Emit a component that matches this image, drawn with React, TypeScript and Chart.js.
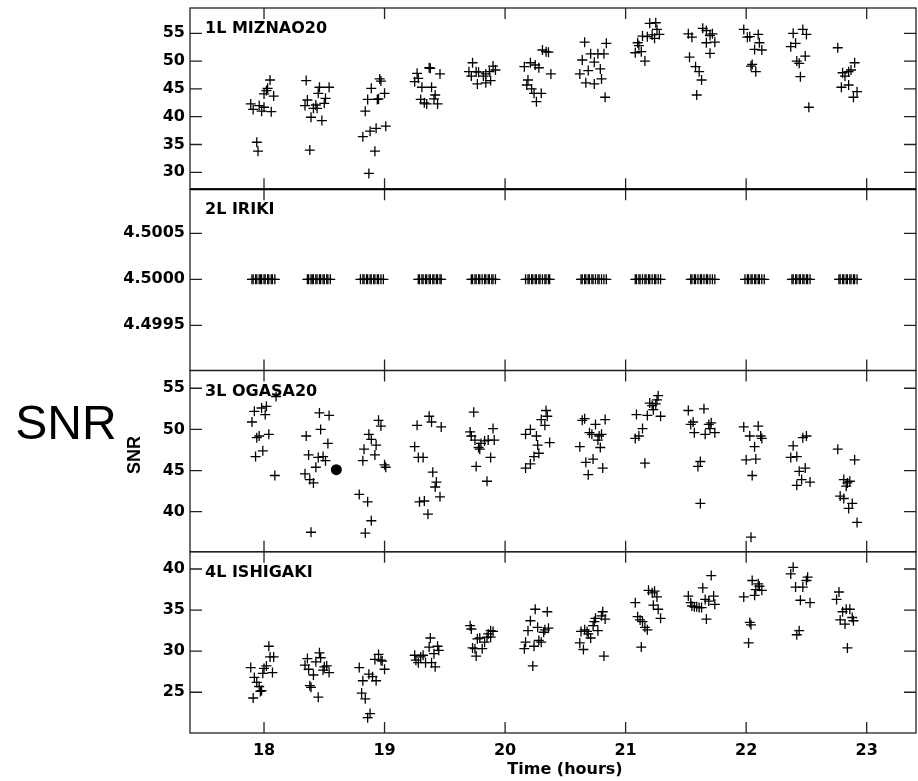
import React, { useEffect, useRef } from "react";
import { Chart, registerables } from "chart.js";

Chart.register(...registerables);

// ---------- axis settings ----------
const X_MIN = 17.386;
const X_MAX = 23.409;
const xTicks = [18, 19, 20, 21, 22, 23];

const mizTicks = [30, 35, 40, 45, 50, 55];
const iriTicks = [4.4995, 4.5, 4.5005];
const ogaTicks = [40, 45, 50, 55];
const ishTicks = [25, 30, 35, 40];

const panelLabels = ["1L MIZNAO20", "2L IRIKI", "3L OGASA20", "4L ISHIGAKI"];

// ---------- data: 1L MIZNAO20 ----------
const mizTimes = [
  17.89, 17.91, 17.96, 17.98, 18.0, 17.94, 17.95, 18.0, 18.02, 18.03, 18.05, 18.08, 18.06,
  18.35, 18.36, 18.34, 18.38, 18.39, 18.41, 18.43, 18.44, 18.45, 18.46, 18.48, 18.5, 18.51, 18.54,
  18.82, 18.84, 18.86, 18.87, 18.88, 18.89, 18.92, 18.94, 18.93, 18.96, 18.97, 19.0, 19.01, 18.95,
  19.25, 19.27, 19.28, 19.3, 19.31, 19.33, 19.35, 19.37, 19.38, 19.39, 19.41, 19.42, 19.44, 19.46,
  19.7, 19.73, 19.72, 19.76, 19.78, 19.77, 19.82, 19.84, 19.84, 19.88, 19.9, 19.92, 19.87,
  20.16, 20.21, 20.25, 20.28, 20.19, 20.18, 20.22, 20.24, 20.3, 20.26, 20.31, 20.34, 20.36, 20.38,
  20.66, 20.84, 20.64, 20.71, 20.77, 20.82, 20.74, 20.69, 20.79, 20.62, 20.67, 20.74, 20.8, 20.83,
  21.08, 21.1, 21.13, 21.16, 21.14, 21.18, 21.2, 21.24, 21.22, 21.25, 21.26, 21.28, 21.11,
  21.52, 21.55, 21.53, 21.58, 21.61, 21.63, 21.59, 21.64, 21.67, 21.7, 21.72, 21.67, 21.74, 21.7,
  21.98, 22.01, 22.03, 22.1, 22.11, 22.07, 22.13, 22.04, 22.05, 22.08,
  22.39, 22.47, 22.5, 22.37, 22.41, 22.42, 22.44, 22.49, 22.45, 22.52,
  22.76, 22.8, 22.82, 22.85, 22.87, 22.9, 22.79, 22.85, 22.92, 22.89,
];
const mizSnr = [
  42.3, 41.3, 42.0, 41.0, 41.7, 35.4, 33.8, 44.1, 44.7, 45.1, 46.6, 43.7, 40.9,
  46.5, 43.0, 42.0, 34.0, 39.9, 41.5, 42.1, 41.5, 44.2, 45.3, 39.3, 42.4, 43.3, 45.3,
  36.4, 41.0, 43.1, 29.8, 37.4, 45.1, 33.8, 43.1, 37.9, 46.8, 46.4, 44.2, 38.3, 43.2,
  46.3, 47.8, 46.9, 43.1, 45.3, 42.5, 42.3, 48.8, 48.7, 45.3, 43.2, 43.9, 42.3, 47.7,
  48.1, 49.7, 47.3, 48.1, 48.0, 45.9, 47.3, 47.7, 46.1, 46.5, 49.1, 48.4, 48.1,
  49.0, 49.7, 49.3, 48.8, 46.6, 45.7, 45.0, 44.2, 44.2, 42.7, 52.0, 51.7, 51.6, 47.7,
  53.4, 53.2, 50.2, 51.3, 51.3, 51.3, 49.8, 48.3, 48.6, 47.7, 46.1, 45.9, 46.8, 43.5,
  51.5, 53.3, 51.7, 50.0, 54.5, 54.4, 56.8, 54.1, 54.7, 56.9, 55.7, 54.8, 52.8,
  54.9, 54.3, 50.7, 49.0, 48.1, 46.6, 43.9, 55.9, 55.5, 54.6, 54.9, 53.3, 53.4, 51.4,
  55.7, 54.3, 54.4, 54.8, 53.3, 52.1, 52.0, 49.1, 49.4, 48.1,
  55.0, 55.7, 54.8, 52.6, 53.2, 50.0, 49.6, 50.9, 47.2, 41.7,
  52.4, 47.9, 47.3, 48.1, 48.4, 49.7, 45.3, 45.7, 44.5, 43.5,
];

// ---------- data: 2L IRIKI (constant level) ----------
const IRIKI_LEVEL = 4.5;
const iriTimes = [
  17.9, 17.91, 17.93, 17.94, 17.96, 17.97, 17.98, 18.0, 18.01, 18.03, 18.04, 18.06, 18.07, 18.09,
  18.36, 18.37, 18.39, 18.4, 18.41, 18.43, 18.44, 18.46, 18.47, 18.49, 18.5, 18.52, 18.53, 18.55,
  18.8, 18.82, 18.83, 18.85, 18.86, 18.88, 18.89, 18.91, 18.92, 18.94, 18.95, 18.97, 18.99,
  19.28, 19.29, 19.31, 19.32, 19.34, 19.35, 19.37, 19.38, 19.4, 19.41, 19.43, 19.44, 19.46, 19.47,
  19.72, 19.73, 19.75, 19.76, 19.78, 19.79, 19.81, 19.83, 19.84, 19.86, 19.87, 19.89, 19.9, 19.92,
  20.17, 20.19, 20.2, 20.22, 20.23, 20.25, 20.26, 20.28, 20.29, 20.31, 20.33, 20.34, 20.36, 20.37,
  20.63, 20.64, 20.66, 20.67, 20.69, 20.7, 20.72, 20.73, 20.75, 20.77, 20.78, 20.8, 20.82, 20.84,
  21.08, 21.09, 21.11, 21.12, 21.14, 21.16, 21.17, 21.19, 21.2, 21.22, 21.24, 21.25, 21.27, 21.29,
  21.54, 21.55, 21.57, 21.58, 21.6, 21.62, 21.63, 21.65, 21.67, 21.68, 21.7, 21.72, 21.74,
  21.99, 22.01, 22.02, 22.04, 22.05, 22.07, 22.08, 22.1, 22.11, 22.13, 22.15,
  22.38, 22.39, 22.41, 22.42, 22.44, 22.45, 22.47, 22.48, 22.5, 22.51, 22.53,
  22.77, 22.78, 22.8, 22.81, 22.83, 22.84, 22.86, 22.87, 22.89, 22.9, 22.92,
];

// ---------- data: 3L OGASA20 ----------
const ogaTimes = [
  17.9, 17.92, 17.98, 18.02, 18.01, 17.94, 17.96, 18.04, 17.93, 17.99, 18.09, 18.1,
  18.35, 18.37, 18.34, 18.38, 18.41, 18.39, 18.43, 18.45, 18.49, 18.51, 18.46, 18.47, 18.54, 18.53,
  18.79, 18.86, 18.84, 18.89, 18.82, 18.83, 18.87, 18.89, 18.93, 18.92, 18.95, 18.97, 19.0, 19.01,
  19.25, 19.27, 19.28, 19.32, 19.29, 19.33, 19.36, 19.37, 19.39, 19.4, 19.43, 19.42, 19.46, 19.47,
  19.74, 19.71, 19.72, 19.75, 19.78, 19.8, 19.83, 19.86, 19.9, 19.91, 19.88, 19.76, 19.85, 19.79,
  20.17, 20.21, 20.24, 20.28, 20.27, 20.37, 20.17, 20.21, 20.26, 20.3, 20.33, 20.34, 20.35,
  20.62, 20.64, 20.66, 20.67, 20.69, 20.73, 20.7, 20.72, 20.75, 20.77, 20.78, 20.8, 20.79, 20.83, 20.81,
  21.08, 21.11, 21.14, 21.09, 21.16, 21.18, 21.2, 21.22, 21.23, 21.25, 21.26, 21.27, 21.29,
  21.52, 21.65, 21.56, 21.54, 21.57, 21.66, 21.69, 21.71, 21.7, 21.74, 21.62, 21.6, 21.62,
  21.98, 22.1, 22.03, 22.12, 22.13, 22.07, 22.0, 22.08, 22.05, 22.04,
  22.39, 22.37, 22.42, 22.47, 22.5, 22.44, 22.49, 22.46, 22.42, 22.53,
  22.76, 22.9, 22.81, 22.84, 22.86, 22.83, 22.78, 22.81, 22.88, 22.85, 22.92,
];
const ogaSnr = [
  50.9, 52.2, 52.6, 52.8, 51.8, 49.0, 49.2, 49.4, 46.7, 47.4, 44.4, 54.0,
  49.2, 46.9, 44.6, 43.9, 43.5, 37.5, 45.4, 46.6, 46.7, 46.2, 52.0, 50.0, 51.7, 48.3,
  42.1, 41.2, 37.4, 38.9, 46.2, 47.6, 49.4, 48.8, 48.1, 46.9, 51.1, 50.4, 45.7, 45.4,
  47.9, 50.5, 46.6, 46.6, 41.2, 41.3, 39.7, 51.6, 50.9, 44.8, 43.6, 43.0, 41.8, 50.3,
  52.1, 49.7, 49.2, 48.7, 47.8, 48.3, 48.6, 48.7, 50.1, 48.7, 46.6, 45.5, 43.7, 47.6,
  45.3, 45.8, 46.7, 47.1, 48.1, 48.4, 49.4, 50.0, 49.2, 51.2, 50.5, 52.3, 51.6,
  47.9, 51.1, 51.3, 46.0, 44.5, 46.4, 49.6, 49.4, 50.6, 48.7, 49.2, 49.4, 47.8, 51.2, 45.3,
  48.9, 49.2, 50.1, 51.8, 45.9, 51.7, 53.2, 52.9, 52.4, 53.1, 53.6, 54.1, 51.6,
  52.3, 52.5, 50.9, 50.6, 49.6, 49.4, 50.6, 50.8, 50.1, 49.6, 46.1, 45.5, 41.0,
  50.3, 50.4, 49.2, 49.2, 48.9, 47.9, 46.3, 46.4, 44.4, 36.9,
  48.0, 46.6, 46.7, 49.0, 49.2, 44.9, 45.3, 43.9, 43.2, 43.6,
  47.6, 46.3, 43.9, 43.5, 43.7, 43.1, 41.9, 41.6, 41.0, 40.4, 38.7,
];
const markerTime = [18.6];
const markerSnr = [45.1];

// ---------- data: 4L ISHIGAKI ----------
const ishTimes = [
  17.89, 17.91, 17.92, 17.94, 17.96, 17.97, 17.98, 17.99, 18.0, 18.02, 18.04, 18.05, 18.08, 18.07,
  18.36, 18.34, 18.37, 18.38, 18.39, 18.41, 18.43, 18.45, 18.46, 18.47, 18.49, 18.5, 18.52, 18.54,
  18.79, 18.82, 18.81, 18.84, 18.86, 18.88, 18.87, 18.9, 18.93, 18.92, 18.95, 18.97, 18.98, 19.0,
  19.25, 19.26, 19.28, 19.3, 19.32, 19.34, 19.37, 19.38, 19.39, 19.41, 19.42, 19.44, 19.45,
  19.71, 19.72, 19.73, 19.75, 19.76, 19.77, 19.79, 19.81, 19.83, 19.85, 19.86, 19.88, 19.9, 19.88,
  20.16, 20.17, 20.19, 20.21, 20.23, 20.24, 20.25, 20.27, 20.28, 20.3, 20.32, 20.33, 20.35, 20.36,
  20.62, 20.65, 20.63, 20.66, 20.68, 20.69, 20.71, 20.73, 20.74, 20.75, 20.77, 20.8, 20.82, 20.83, 20.81,
  21.08, 21.1, 21.12, 21.14, 21.13, 21.16, 21.18, 21.19, 21.22, 21.24, 21.26, 21.23, 21.27, 21.29,
  21.52, 21.54, 21.55, 21.57, 21.59, 21.61, 21.63, 21.64, 21.67, 21.66, 21.69, 21.71, 21.73, 21.74,
  21.98, 22.02, 22.03, 22.04, 22.05, 22.07, 22.08, 22.1, 22.11, 22.13,
  22.39, 22.37, 22.41, 22.47, 22.5, 22.51, 22.45, 22.53, 22.44, 22.42,
  22.77, 22.75, 22.8, 22.83, 22.86, 22.78, 22.82, 22.88, 22.89, 22.84,
];
const ishSnr = [
  28.0, 24.3, 26.8, 26.2, 25.7, 25.1, 25.2, 27.3, 27.9, 28.2, 30.6, 29.3, 29.3, 27.4,
  29.1, 28.3, 27.8, 25.8, 25.6, 27.1, 28.7, 24.4, 29.8, 29.2, 27.7, 28.1, 28.2, 27.4,
  28.0, 26.4, 24.9, 24.2, 21.9, 22.4, 27.2, 26.9, 26.4, 29.0, 29.6, 28.9, 28.8, 27.8,
  29.5, 28.9, 28.6, 29.3, 29.5, 28.6, 30.5, 31.6, 28.6, 29.7, 28.1, 30.6, 30.1,
  33.1, 32.7, 30.4, 30.3, 29.4, 31.5, 31.6, 30.3, 31.1, 31.7, 32.1, 32.5, 32.4, 31.7,
  30.3, 31.1, 32.5, 33.7, 28.2, 30.6, 35.1, 32.9, 31.3, 31.1, 32.3, 32.6, 34.8, 32.8,
  31.0, 30.2, 32.4, 32.6, 32.4, 32.1, 31.6, 33.1, 33.6, 34.0, 32.5, 34.3, 29.4, 33.9, 34.8,
  35.9, 34.2, 33.8, 33.6, 30.5, 32.9, 32.6, 37.4, 37.1, 37.3, 36.6, 35.6, 35.1, 34.0,
  36.7, 35.9, 35.5, 35.4, 35.4, 35.3, 35.3, 37.7, 33.9, 36.3, 36.1, 39.2, 36.7, 35.7,
  36.6, 31.0, 33.5, 33.2, 38.6, 36.8, 37.5, 38.2, 37.9, 37.4,
  40.2, 39.4, 37.8, 37.8, 38.6, 39.0, 36.2, 35.9, 32.5, 32.0,
  37.2, 36.3, 34.8, 35.1, 35.1, 33.8, 33.3, 34.1, 33.7, 30.4,
];

// ---------- helpers ----------
const FONT_BOLD = "'DejaVu Sans', sans-serif";
const TICK_FONT = { family: FONT_BOLD, size: 16, weight: "bold" as const };
const panelIds = ["yMiz", "yIri", "yOga", "yIsh"];

const toPts = (xs: number[], ys: number[]) => xs.map((x, i) => ({ x, y: ys[i] }));

function yAxis(min: number, max: number, ticks: number[], fmt: (v: number) => string) {
  return {
    type: "linear" as const,
    position: "left" as const,
    stack: "panels",
    stackWeight: 1,
    min,
    max,
    grid: { display: false, drawTicks: false },
    border: { display: false },
    afterBuildTicks: (s: any) => {
      s.ticks = ticks.map((v) => ({ value: v }));
    },
    afterFit: (s: any) => {
      s.width = 190;
      s.paddingTop = 0;
      s.paddingBottom = 0;
      s.paddingLeft = 0;
      s.paddingRight = 0;
    },
    ticks: {
      font: TICK_FONT,
      color: "#000",
      padding: 5,
      autoSkip: false,
      callback: (v: any) => fmt(Number(v)),
    },
  };
}

const framePlugin = {
  id: "framePlugin",
  afterDraw(chart: any) {
    const ctx = chart.ctx as CanvasRenderingContext2D;
    const xs = chart.scales.x;
    const { left, right } = chart.chartArea;
    ctx.save();
    ctx.strokeStyle = "#222";
    ctx.lineWidth = 1.3;
    panelIds.forEach((id, i) => {
      const s = chart.scales[id];
      const top = s.top;
      const bottom = s.bottom;
      ctx.beginPath();
      xTicks.forEach((t) => {
        const px = xs.getPixelForValue(t);
        ctx.moveTo(px, top);
        ctx.lineTo(px, top + 11);
        ctx.moveTo(px, bottom - 11);
        ctx.lineTo(px, bottom);
      });
      s.ticks.forEach((tk: any) => {
        const py = s.getPixelForValue(tk.value);
        ctx.moveTo(left, py);
        ctx.lineTo(left + 12, py);
        ctx.moveTo(right - 12, py);
        ctx.lineTo(right, py);
      });
      ctx.stroke();
      ctx.strokeRect(left, top, right - left, bottom - top);
      ctx.fillStyle = "#000";
      ctx.font = `bold 16px ${FONT_BOLD}`;
      ctx.textBaseline = "middle";
      ctx.textAlign = "left";
      ctx.fillText(panelLabels[i], 205, top + 21);
    });
    // thicker separator between panel 1 and 2
    const sep = chart.scales[panelIds[0]].bottom;
    ctx.lineWidth = 2.2;
    ctx.strokeStyle = "#000";
    ctx.beginPath();
    ctx.moveTo(left, sep);
    ctx.lineTo(right, sep);
    ctx.stroke();

    // x axis title
    ctx.fillStyle = "#000";
    ctx.font = `bold 16px ${FONT_BOLD}`;
    ctx.textAlign = "center";
    ctx.textBaseline = "middle";
    ctx.fillText("Time (hours)", 565, 770);

    // big SNR
    ctx.font = "48px 'Liberation Sans', Arial, sans-serif";
    ctx.textAlign = "center";
    ctx.textBaseline = "alphabetic";
    ctx.fillText("SNR", 66, 439);

    // small rotated SNR
    ctx.translate(135, 455);
    ctx.rotate(-Math.PI / 2);
    ctx.font = "bold 18px 'Liberation Sans', Arial, sans-serif";
    ctx.textBaseline = "middle";
    ctx.fillText("SNR", 0, 0);
    ctx.restore();
  },
};

const crossStyle = {
  pointStyle: "cross" as const,
  pointRadius: 5,
  pointBorderWidth: 1.3,
  borderColor: "#000",
  pointBorderColor: "#000",
  backgroundColor: "#000",
  showLine: false,
};

export default function App() {
  const ref = useRef<HTMLCanvasElement | null>(null);

  useEffect(() => {
    if (!ref.current) return;
    const chart = new Chart(ref.current, {
      type: "scatter",
      data: {
        datasets: [
          { label: "1L MIZNAO20", data: toPts(mizTimes, mizSnr), yAxisID: "yMiz", ...crossStyle },
          { label: "2L IRIKI", data: iriTimes.map((t) => ({ x: t, y: IRIKI_LEVEL })), yAxisID: "yIri", ...crossStyle },
          { label: "3L OGASA20", data: toPts(ogaTimes, ogaSnr), yAxisID: "yOga", ...crossStyle },
          {
            label: "marker",
            data: toPts(markerTime, markerSnr),
            yAxisID: "yOga",
            pointStyle: "circle",
            pointRadius: 5.5,
            pointBorderWidth: 0,
            pointBackgroundColor: "#000",
            backgroundColor: "#000",
            showLine: false,
          },
          { label: "4L ISHIGAKI", data: toPts(ishTimes, ishSnr), yAxisID: "yIsh", ...crossStyle },
        ],
      },
      options: {
        animation: false,
        responsive: false,
        devicePixelRatio: 1,
        layout: { autoPadding: false, padding: { left: 0, right: 2, top: 8, bottom: 0 } },
        plugins: { legend: { display: false }, tooltip: { enabled: false } },
        scales: {
          x: {
            type: "linear",
            position: "bottom",
            min: X_MIN,
            max: X_MAX,
            grid: { display: false, drawTicks: false },
            border: { display: false },
            afterBuildTicks: (s: any) => {
              s.ticks = xTicks.map((v) => ({ value: v }));
            },
            afterFit: (s: any) => {
              s.height = 48;
              s.paddingLeft = 0;
              s.paddingRight = 0;
            },
            ticks: {
              font: TICK_FONT,
              color: "#000",
              padding: 8,
              autoSkip: false,
              maxRotation: 0,
              callback: (v: any) => String(Math.round(Number(v))),
            },
          },
          // stacked panels are laid out bottom-up in definition order
          yIsh: yAxis(20.04, 42.1, ishTicks, (v) => String(v)),
          yOga: yAxis(35.13, 57.16, ogaTicks, (v) => String(v)),
          yIri: yAxis(4.499009, 4.500979, iriTicks, (v) => v.toFixed(4)),
          yMiz: yAxis(26.95, 59.55, mizTicks, (v) => String(v)),
        },
      } as any,
      plugins: [framePlugin],
    });
    return () => chart.destroy();
  }, []);

  return (
    <div style={{ position: "absolute", left: 0, top: 0, width: 918, height: 781, background: "#fff" }}>
      <canvas ref={ref} width={918} height={781} style={{ display: "block" }} />
    </div>
  );
}
